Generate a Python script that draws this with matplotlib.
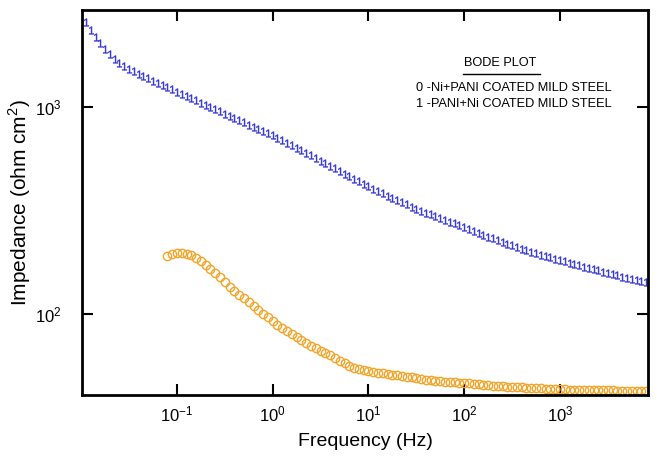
import matplotlib
matplotlib.use('Agg')
import matplotlib.pyplot as plt
import matplotlib.ticker as ticker
import numpy as np

plt.rcParams['font.family'] = ['Liberation Sans', 'DejaVu Sans']
plt.rcParams['mathtext.fontset'] = 'custom'
plt.rcParams['mathtext.rm'] = 'Liberation Sans'

# log10 of frequency (Hz), shared sweep
log_f = [-1.95, -1.90, -1.85, -1.80, -1.75, -1.70, -1.65, -1.60, -1.55, -1.50,
         -1.45, -1.40, -1.35, -1.30, -1.25, -1.20, -1.15, -1.10, -1.05, -1.00,
         -0.95, -0.90, -0.85, -0.80, -0.75, -0.70, -0.65, -0.60, -0.55, -0.50,
         -0.45, -0.40, -0.35, -0.30, -0.25, -0.20, -0.15, -0.10, -0.05, 0.00,
         0.05, 0.10, 0.15, 0.20, 0.25, 0.30, 0.35, 0.40, 0.45, 0.50,
         0.55, 0.60, 0.65, 0.70, 0.75, 0.80, 0.85, 0.90, 0.95, 1.00,
         1.05, 1.10, 1.15, 1.20, 1.25, 1.30, 1.35, 1.40, 1.45, 1.50,
         1.55, 1.60, 1.65, 1.70, 1.75, 1.80, 1.85, 1.90, 1.95, 2.00,
         2.05, 2.10, 2.15, 2.20, 2.25, 2.30, 2.35, 2.40, 2.45, 2.50,
         2.55, 2.60, 2.65, 2.70, 2.75, 2.80, 2.85, 2.90, 2.95, 3.00,
         3.05, 3.10, 3.15, 3.20, 3.25, 3.30, 3.35, 3.40, 3.45, 3.50,
         3.55, 3.60, 3.65, 3.70, 3.75, 3.80, 3.85, 3.90]

# log10 of impedance, 1 - PANI+Ni coated (blue "1" markers)
log_z1 = [3.410, 3.370, 3.340, 3.310, 3.280, 3.255, 3.232, 3.213, 3.198, 3.185,
          3.172, 3.160, 3.149, 3.138, 3.127, 3.117, 3.107, 3.097, 3.085, 3.073,
          3.062, 3.052, 3.042, 3.032, 3.021, 3.010, 3.000, 2.990, 2.979, 2.968,
          2.957, 2.946, 2.936, 2.926, 2.915, 2.905, 2.895, 2.886, 2.875, 2.863,
          2.851, 2.839, 2.827, 2.815, 2.803, 2.791, 2.778, 2.766, 2.754, 2.741,
          2.728, 2.716, 2.703, 2.690, 2.678, 2.666, 2.654, 2.642, 2.630, 2.618,
          2.606, 2.594, 2.582, 2.571, 2.560, 2.550, 2.539, 2.529, 2.519, 2.509,
          2.499, 2.490, 2.481, 2.472, 2.463, 2.454, 2.446, 2.437, 2.428, 2.419,
          2.410, 2.401, 2.392, 2.383, 2.374, 2.365, 2.356, 2.347, 2.339, 2.331,
          2.323, 2.315, 2.308, 2.301, 2.294, 2.287, 2.280, 2.274, 2.267, 2.261,
          2.254, 2.248, 2.241, 2.235, 2.229, 2.222, 2.216, 2.210, 2.204, 2.198,
          2.192, 2.186, 2.180, 2.174, 2.168, 2.163, 2.158, 2.153]

# log10 of impedance, 0 - Ni+PANI coated (orange circles), starts at log_f = -1.10
start0 = 17
log_z0 = [2.282, 2.290, 2.294, 2.295, 2.292, 2.283, 2.270, 2.254, 2.237, 2.219,
          2.200, 2.178, 2.155, 2.130, 2.110, 2.092, 2.075, 2.058, 2.040, 2.020,
          2.002, 1.985, 1.965, 1.948, 1.931, 1.916, 1.902, 1.888, 1.874, 1.860,
          1.846, 1.834, 1.822, 1.811, 1.800, 1.789, 1.775, 1.761, 1.750, 1.741,
          1.733, 1.727, 1.722, 1.719, 1.716, 1.713, 1.710, 1.707, 1.704, 1.701,
          1.697, 1.693, 1.689, 1.685, 1.681, 1.679, 1.677, 1.675, 1.673, 1.671,
          1.669, 1.668, 1.667, 1.665, 1.663, 1.661, 1.658, 1.656, 1.654, 1.652,
          1.650, 1.649, 1.647, 1.646, 1.645, 1.643, 1.642, 1.641, 1.640, 1.639,
          1.638, 1.637, 1.636, 1.636, 1.635, 1.635, 1.634, 1.634, 1.633, 1.633,
          1.632, 1.632, 1.631, 1.631, 1.630, 1.630, 1.629, 1.629, 1.628, 1.628,
          1.628]

legend_title = 'BODE PLOT'
legend_lines = ['0 -Ni+PANI COATED MILD STEEL', '1 -PANI+Ni COATED MILD STEEL']

f = 10 ** np.array(log_f)
z1 = 10 ** np.array(log_z1)
z0 = 10 ** np.array(log_z0)

fig = plt.figure(figsize=(6.58, 4.61), dpi=100)
ax = fig.add_axes([0.1246, 0.1432, 0.8602, 0.8351])

ax.plot(f, z1, linestyle='none', marker='$1$', markersize=5.5,
        color='#3535d5', markeredgewidth=0.3)
ax.plot(f[start0:], z0, linestyle='none', marker='o', markersize=6,
        markerfacecolor='none', markeredgecolor='#f2a52a', markeredgewidth=1.0)

ax.set_xscale('log')
ax.set_yscale('log')
ax.set_xlim(0.0102, 8300)
ax.set_ylim(40.6, 2940)

ax.xaxis.set_major_locator(ticker.LogLocator(base=10))
ax.yaxis.set_major_locator(ticker.LogLocator(base=10))
ax.xaxis.set_minor_locator(ticker.NullLocator())
ax.yaxis.set_minor_locator(ticker.NullLocator())
ax.tick_params(which='major', direction='in', length=8, width=1.5,
               top=True, right=True, labelsize=12)
ax.tick_params(axis='x', pad=7)
ax.tick_params(axis='y', pad=15)

for s in ax.spines.values():
    s.set_linewidth(2)

ax.set_xlabel('Frequency (Hz)', fontsize=14, labelpad=6)
ax.set_ylabel('Impedance (ohm cm$^2$)', fontsize=15)
ax.yaxis.set_label_coords(-0.086, 0.5)

ax.text(0.739, 0.862, legend_title, transform=ax.transAxes, fontsize=9.2,
        ha='center', va='center')
ax.plot([0.673, 0.809], [0.834, 0.834], transform=ax.transAxes, color='black',
        linewidth=1)
ax.text(0.590, 0.797, legend_lines[0], transform=ax.transAxes, fontsize=9.2,
        ha='left', va='center')
ax.text(0.590, 0.756, legend_lines[1], transform=ax.transAxes, fontsize=9.2,
        ha='left', va='center')

plt.savefig('out.png', dpi=100)
